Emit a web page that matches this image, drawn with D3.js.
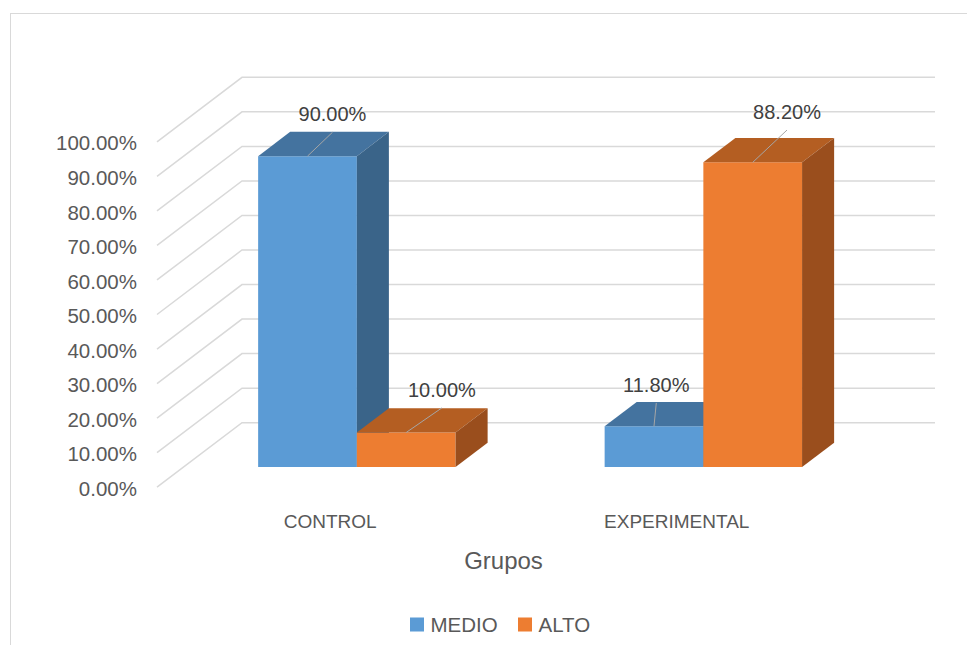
<!DOCTYPE html>
<html><head><meta charset="utf-8">
<script src="https://cdn.jsdelivr.net/npm/d3@7"></script>
<style>body{margin:0;background:#fff} svg{display:block} text{font-family:"Liberation Sans",Arial,sans-serif}</style>
</head><body><svg id="c" width="967" height="645"></svg>
<script>
// ---- data ----
const categories = ["CONTROL", "EXPERIMENTAL"];
const seriesNames = ["MEDIO", "ALTO"];
const medioValues = [0.90, 0.118];
const altoValues = [0.10, 0.882];
const yTickValues = [0, 0.1, 0.2, 0.3, 0.4, 0.5, 0.6, 0.7, 0.8, 0.9, 1.0];
const axisTitle = "Grupos";

// ---- layout / style ----
const wallLeft = 242, wallRight = 935, wallBottom = 422.7, wallTop = 77.3;
const depthDX = -85, depthDY = 64.5;      // full floor depth vector (back -> front)
const tBack = 0.31, tFront = 0.687;       // bar depth extent (0 = back wall, 1 = front)
const colors = {
  MEDIO: {front: "#5B9BD5", top: "#44739F", side: "#3A6489"},
  ALTO:  {front: "#ED7D31", top: "#B45E22", side: "#9A4E1D"}
};
// label nudges relative to bar top (dx from front-face centre, dy above back-top edge)
const labelNudge = {
  "CONTROL|MEDIO": [25, 10.6], "CONTROL|ALTO": [35.7, 11.3],
  "EXPERIMENTAL|MEDIO": [2.3, 10], "EXPERIMENTAL|ALTO": [34.3, 19]
};

const svg = d3.select("#c");
const valuesBySeries = {MEDIO: medioValues, ALTO: altoValues};

const x0 = d3.scaleBand().domain(categories).range([wallLeft, wallRight]).padding(0);
const x1 = d3.scaleBand().domain(seriesNames).range([0, x0.bandwidth()]).paddingInner(0).paddingOuter(0.755);
const y = d3.scaleLinear().domain([0, 1]).range([wallBottom, wallTop]);

const P = (xb, v, t) => [xb + depthDX * t, y(v) + depthDY * t];
const line = d3.line();

// border
svg.append("rect").attr("x", 10.5).attr("y", 13.5).attr("width", 1000).attr("height", 700)
  .attr("fill", "none").attr("stroke", "#D9D9D9").attr("stroke-width", 1);

// gridlines (side wall + back wall)
svg.append("g").selectAll("path").data(yTickValues).join("path")
  .attr("d", v => line([P(wallLeft, v, 1), P(wallLeft, v, 0), P(wallRight, v, 0)]))
  .attr("fill", "none").attr("stroke", "#D9D9D9").attr("stroke-width", 1.5);

// y axis labels
svg.append("g").selectAll("text").data(yTickValues).join("text")
  .attr("x", P(wallLeft, 0, 1)[0] - 20)
  .attr("y", v => P(wallLeft, v, 1)[1] + 1.5)
  .attr("dy", "0.35em")
  .attr("text-anchor", "end")
  .attr("font-size", 20.5).attr("fill", "#595959")
  .text(d => d3.format(".2%")(d));

// bars
const bars = [];
categories.forEach((c, i) => seriesNames.forEach(s => {
  bars.push({cat: c, series: s, value: valuesBySeries[s][i]});
}));
const gBars = svg.append("g");
bars.forEach(b => {
  const xa = x0(b.cat) + x1(b.series), xb = xa + x1.bandwidth(), v = b.value;
  const col = colors[b.series];
  gBars.append("path").attr("d", line([P(xa,0,tFront),P(xb,0,tFront),P(xb,v,tFront),P(xa,v,tFront)]) + "Z").attr("fill", col.front);
  gBars.append("path").attr("d", line([P(xa,v,tFront),P(xb,v,tFront),P(xb,v,tBack),P(xa,v,tBack)]) + "Z").attr("fill", col.top);
  gBars.append("path").attr("d", line([P(xb,0,tFront),P(xb,0,tBack),P(xb,v,tBack),P(xb,v,tFront)]) + "Z").attr("fill", col.side);
});

// data labels with leader lines
const gLab = svg.append("g");
bars.forEach(b => {
  const xa = x0(b.cat) + x1(b.series), xm = xa + x1.bandwidth() / 2, v = b.value;
  const [fx, fy] = P(xm, v, tFront);
  const backTop = P(xm, v, tBack)[1];
  const nd = labelNudge[b.cat + "|" + b.series];
  const lx = fx + nd[0], ly = backTop - nd[1];
  gLab.append("line").attr("x1", fx).attr("y1", fy).attr("x2", lx).attr("y2", ly + 11)
    .attr("stroke", "#A6A6A6").attr("stroke-width", 1);
  gLab.append("text").attr("x", lx).attr("y", ly).attr("text-anchor", "middle")
    .attr("font-size", 20).attr("fill", "#404040").text(d3.format(".2%")(v));
});

// category labels
svg.append("g").selectAll("text").data(categories).join("text")
  .attr("x", c => P(x0(c) + x0.bandwidth() / 2, 0, 1)[0])
  .attr("y", 527.5).attr("text-anchor", "middle")
  .attr("font-size", 19).attr("fill", "#595959").text(c => c);

// axis title
svg.append("text").attr("x", (P(wallLeft,0,1)[0] + P(wallRight,0,1)[0]) / 2).attr("y", 569)
  .attr("text-anchor", "middle").attr("font-size", 24).attr("fill", "#595959").text(axisTitle);

// legend
const legendX = [410, 518];
const lg = svg.append("g").selectAll("g").data(seriesNames).join("g")
  .attr("transform", (d, i) => `translate(${legendX[i]},0)`);
lg.append("rect").attr("x", 0).attr("y", 617.5).attr("width", 14).attr("height", 14)
  .attr("fill", d => colors[d].front);
lg.append("text").attr("x", 20.5).attr("y", 631.8).attr("font-size", 20.5).attr("fill", "#595959").text(d => d);
</script>
</body></html>
